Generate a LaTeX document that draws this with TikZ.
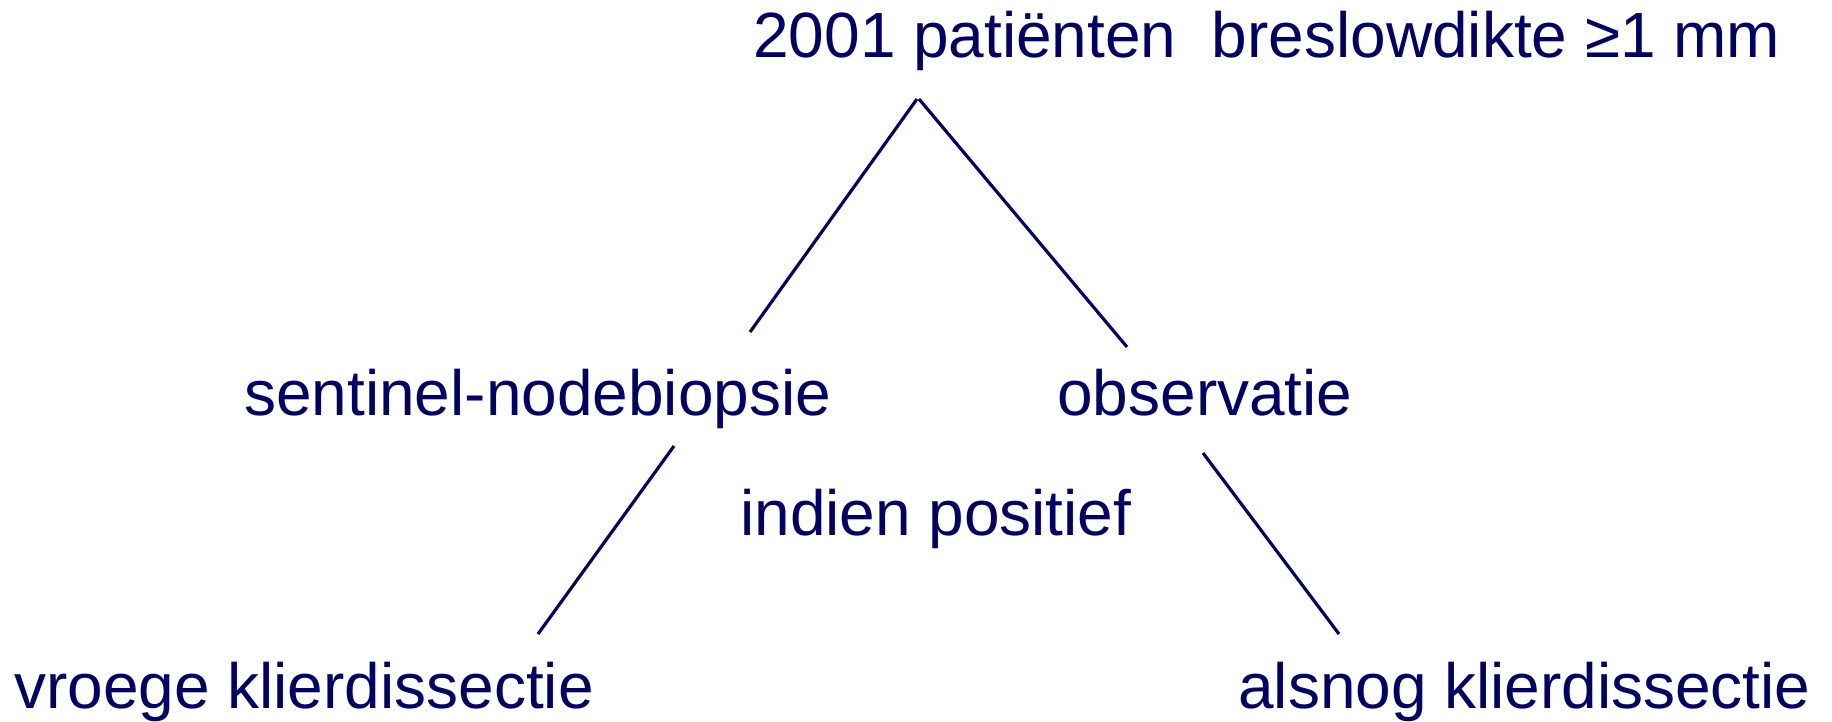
\documentclass[tikz,border=0pt]{standalone}
\usepackage{fontspec}
\setmainfont{Liberation Sans}
\usepackage{tikz}
\usetikzlibrary{positioning}
\definecolor{navy}{RGB}{0,0,102}
\tikzstyle{lbl}=[anchor=base west,inner sep=0pt,text=navy,font=\fontsize{36.4}{40}\selectfont]
\tikzstyle{tak}=[navy,line width=1.8pt]

\begin{document}
\begin{tikzpicture}[x=0.02cm,y=-0.02cm]
	\useasboundingbox (0,0) rectangle (1832,721);
	% teksten
	\node[lbl] (top) at (753,57) {2001 patiënten\ \ breslowdikte ≥1 mm};
	\node[lbl] (snb) at (244,415) {sentinel-nodebiopsie};
	\node[lbl] (obs) at (1057,415) {observatie};
	\node[lbl] (pos) at (740,535) {indien positief};
	\node[lbl] (vroeg) at (14,708) {vroege klierdissectie};
	\node[lbl] (alsnog) at (1238,708) {alsnog klierdissectie};
	% eindpunten van de takken
	\coordinate (topL) at (917,99);
	\coordinate (topR) at (919,99);
	\coordinate (snbU) at (750,332);
	\coordinate (obsU) at (1127,347);
	\coordinate (snbD) at (674,446);
	\coordinate (vroegU) at (538,634);
	\coordinate (obsD) at (1203,453);
	\coordinate (alsnogU) at (1339,634);
	\draw[tak] (topL) -- (snbU);
	\draw[tak] (topR) -- (obsU);
	\draw[tak] (snbD) -- (vroegU);
	\draw[tak] (obsD) -- (alsnogU);
\end{tikzpicture}
\end{document}
